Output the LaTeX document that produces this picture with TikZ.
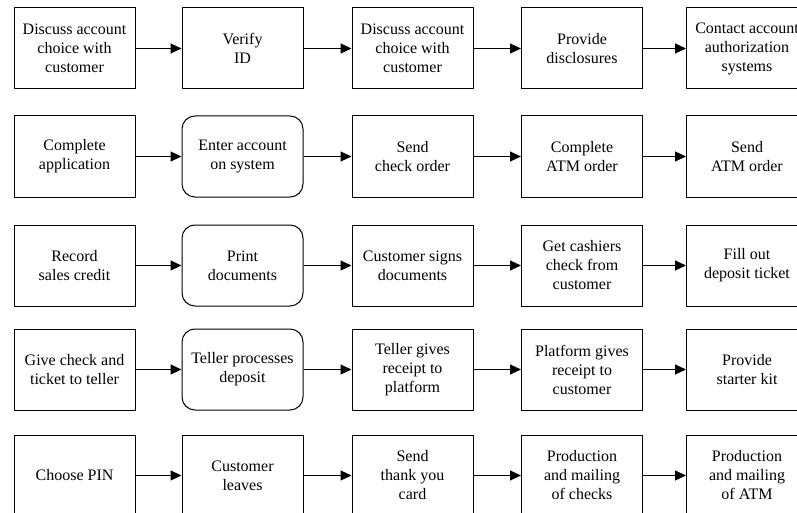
\documentclass[tikz,border=0pt]{standalone}
\usepackage{fontspec}
\setmainfont{Liberation Serif}
\usetikzlibrary{arrows.meta}
\tikzset{
  stepbox/.style={draw=black, line width=1pt, minimum width=121pt, minimum height=81pt,
    inner sep=0pt, align=center, font=\fontsize{16}{19}\selectfont},
  roundbox/.style={stepbox, rounded corners=13pt},
  flow/.style={draw=black, line width=1pt, -{Triangle[length=11pt,width=10pt]}}
}
\begin{document}
\begin{tikzpicture}[x=1pt,y=1pt]
\useasboundingbox (0,0) rectangle (797,-513);
\clip (0,0) rectangle (797,-513);
% row 1
\node[stepbox] (a1) at (74.5,-48.5) {Discuss account\\choice with\\customer};
\node[stepbox] (a2) at (242.5,-48.5) {Verify\\ID};
\node[stepbox] (a3) at (412.5,-48.5) {Discuss account\\choice with\\customer};
\node[stepbox] (a4) at (582,-48.5) {Provide\\disclosures};
\node[stepbox] (a5) at (747,-48.5) {Contact account\\authorization\\systems};
% row 2
\node[stepbox] (b1) at (74.5,-156.5) {Complete\\application};
\node[roundbox] (b2) at (242.5,-156.5) {Enter account\\on system};
\node[stepbox] (b3) at (412.5,-156.5) {Send\\check order};
\node[stepbox] (b4) at (582,-156.5) {Complete\\ATM order};
\node[stepbox] (b5) at (747,-156.5) {Send\\ATM order};
% row 3
\node[stepbox] (c1) at (74.5,-265.5) {Record\\sales credit};
\node[roundbox] (c2) at (242.5,-265.5) {Print\\documents};
\node[stepbox] (c3) at (412.5,-265.5) {Customer signs\\documents};
\node[stepbox] (c4) at (582,-265.5) {Get cashiers\\check from\\customer};
\node[stepbox] (c5) at (747,-265.5) {Fill out\\deposit ticket};
% row 4
\node[stepbox] (d1) at (74.5,-369.5) {Give check and\\ticket to teller};
\node[roundbox] (d2) at (242.5,-369.5) {Teller processes\\deposit};
\node[stepbox] (d3) at (412.5,-369.5) {Teller gives\\receipt to\\platform};
\node[stepbox] (d4) at (582,-369.5) {Platform gives\\receipt to\\customer};
\node[stepbox] (d5) at (747,-369.5) {Provide\\starter kit};
% row 5
\node[stepbox] (e1) at (74.5,-475.5) {Choose PIN};
\node[stepbox] (e2) at (242.5,-475.5) {Customer\\leaves};
\node[stepbox] (e3) at (412.5,-475.5) {Send\\thank you\\card};
\node[stepbox] (e4) at (582,-475.5) {Production\\and mailing\\of checks};
\node[stepbox] (e5) at (747,-475.5) {Production\\and mailing\\of ATM};
% connectors
\foreach \r in {a,b,c,d,e}{
  \draw[flow] (\r1) -- (\r2);
  \draw[flow] (\r2) -- (\r3);
  \draw[flow] (\r3) -- (\r4);
  \draw[flow] (\r4) -- (\r5);
}
\end{tikzpicture}
\end{document}
